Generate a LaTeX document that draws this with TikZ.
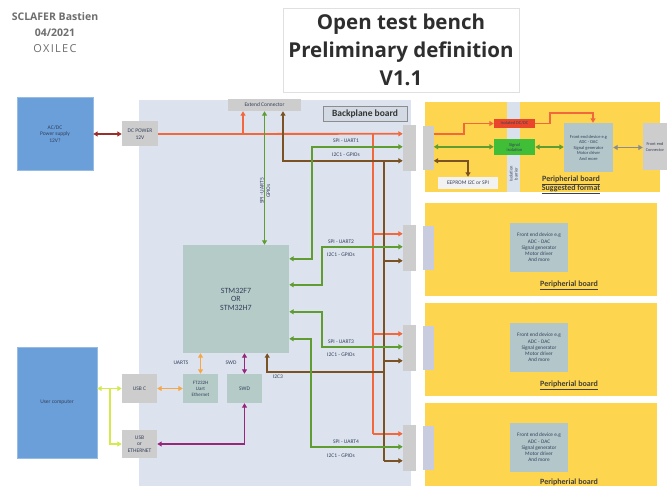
\documentclass[tikz,border=0pt]{standalone}
\usepackage{fontspec}
\setmainfont{Carlito}
\newfontfamily\titlefont{Open Sans}
\newfontfamily\spacedfont[LetterSpace=12]{Open Sans}
\usepackage{tikz}
\usetikzlibrary{arrows.meta,calc,positioning}

\definecolor{bpblue}{HTML}{DCE3EE}
\definecolor{pyellow}{HTML}{FED54E}
\definecolor{psblue}{HTML}{6B9FD9}
\definecolor{chipteal}{HTML}{B5CBC8}
\definecolor{fegray}{HTML}{B3C7CB}
\definecolor{conngray}{HTML}{CDCDCD}
\definecolor{pconnlav}{HTML}{C9CCDF}
\definecolor{barblue}{HTML}{D9E1EC}
\definecolor{pwrred}{HTML}{F2683C}
\definecolor{siggreen}{HTML}{5F9D31}
\definecolor{busbrown}{HTML}{7A5224}
\definecolor{usbyellow}{HTML}{D3E94C}
\definecolor{uartorange}{HTML}{F6A847}
\definecolor{swdpurple}{HTML}{97277B}
\definecolor{acred}{HTML}{9C2D2D}
\definecolor{isored}{HTML}{E9462B}
\definecolor{isogreen}{HTML}{41BE38}
\definecolor{boxtext}{HTML}{34405A}
\definecolor{hdrgray}{HTML}{6E6E6E}

\begin{document}
\begin{tikzpicture}[x=1pt,y=-1pt,>={Triangle[length=4.5pt,width=5pt]},
        blk/.style={inner sep=1pt,align=center,text=boxtext,font=\fontsize{5.5}{6.5}\selectfont},
        graybox/.style={blk,fill=conngray},
        chipbox/.style={blk,fill=chipteal},
        psbox/.style={blk,fill=psblue,draw=psblue!70!white},
        febox/.style={blk,fill=fegray,minimum width=58,minimum height=49,font=\fontsize{5.3}{6.3}\selectfont},
        board/.style={fill=pyellow,anchor=north west,inner sep=0},
        bconn/.style={fill=conngray,minimum width=13,minimum height=46,inner sep=0},
        pconn/.style={minimum width=11,minimum height=44,inner sep=0},
        wire/.style={line width=1.8pt},
        pwr/.style={wire,draw=pwrred},
        sig/.style={wire,draw=siggreen},
        bus/.style={wire,draw=busbrown},
        lbl/.style={inner sep=0,text=boxtext,font=\fontsize{5.5}{6.5}\selectfont},
        plbl/.style={align=center,text=black!85!yellow,font=\bfseries\fontsize{8}{9}\selectfont}]
        \useasboundingbox (0,0) rectangle (667,486);
        \fill[white] (0,0) rectangle (667,486);

        \node[text=hdrgray,font=\titlefont\bfseries\fontsize{10.5}{12}\selectfont] (author) at (55,17) {SCLAFER Bastien};
        \node[text=hdrgray,font=\titlefont\bfseries\fontsize{10.5}{12}\selectfont] (date) at (55,33) {04/2021};
        \node[text=hdrgray,font=\spacedfont\fontsize{11}{12}\selectfont] (company) at (55,49) {OXILEC};
        \node[draw=black!12,fill=white,minimum width=236,minimum height=84,align=center,text=black!82,
            font=\titlefont\bfseries\fontsize{20.5}{28}\selectfont] (title) at (401,50) {Open test bench\\Preliminary definition\\V1.1};

        \node[board,minimum width=272,minimum height=386,fill=bpblue] (backplane) at (139,100) {};
        \node[draw=black!45,fill=black!4!bpblue,minimum width=84,minimum height=15,inner sep=0,
            font=\bfseries\fontsize{9.5}{10}\selectfont,text=black!80] (bplbl) at (365,113.5) {Backplane board};

        \node[psbox,minimum width=76,minimum height=73] (acdc) at (55,134) {AC/DC\\Power supply\\12V?};
        \node[graybox,minimum width=36,minimum height=25] (dcpower) at (140,134) {DC POWER\\12V};
        \draw[wire,draw=acred,<->] (acdc) -- (dcpower);
        \node[graybox,minimum width=73,minimum height=12] (ext) at (264.5,105) {Extend Connector};
        \node[chipbox,minimum width=106,minimum height=108,font=\fontsize{8}{8.5}\selectfont] (stm) at (236,299) {STM32F7\\OR\\STM32H7};

        \node[board,minimum width=235,minimum height=90] (pb1) at (425,102) {};
        \node[board,minimum width=232,minimum height=93] (pb2) at (425,203) {};
        \node[board,minimum width=232,minimum height=93] (pb3) at (425,303) {};
        \node[board,minimum width=232,minimum height=90] (pb4) at (425,403) {};

        \foreach \i/\y/\c in {1/148/conngray,2/248/pconnlav,3/348/pconnlav,4/448/pconnlav}{
            \node[bconn] (bcon\i) at (409.5,\y) {};
            \node[pconn,fill=\c] (pcon\i) at (428,\y) {};
            \coordinate (bcon\i-r) at ($(bcon\i.north west)+(0,9)$);
            \coordinate (bcon\i-g) at ($(bcon\i.north west)+(0,22)$);
            \coordinate (bcon\i-b) at ($(bcon\i.north west)+(0,36)$);
            \coordinate (pcon\i-r) at ($(pcon\i.north east)+(0,8)$);
            \coordinate (pcon\i-g) at ($(pcon\i.north east)+(0,21)$);
            \coordinate (pcon\i-b) at ($(pcon\i.north east)+(0,35)$);
        }

        \coordinate (extpwr) at (243,134);
        \coordinate (rtop) at (373,134);
        \draw[pwr,->] (dcpower.east) -- (bcon1-r);
        \draw[pwr,->] (extpwr) -- (extpwr |- ext.south);
        \draw[pwr] (rtop) -- (rtop |- bcon4-r);
        \foreach \i in {2,3,4}
            \draw[pwr,->] (rtop |- bcon\i-r) -- (bcon\i-r);

        \coordinate (btop) at (384,161);
        \coordinate (i2cjoin) at (384,372);
        \draw[bus,<->] ($(ext.south)+(18.5,0)$) |- (bcon1-b);
        \draw[bus] (btop) -- (btop |- bcon4-b);
        \foreach \i in {2,3,4}
            \draw[bus,->] (btop |- bcon\i-b) -- (bcon\i-b);
        \draw[bus,->] (i2cjoin) -| ($(stm.south east)+(-22,0)$);

        \draw[sig,<->] (ext.south) -- (ext.south |- stm.north);
        \draw[sig,<->] (bcon1-g) -| ($(stm.north east)+(23,14)$) -- ($(stm.north east)+(0,14)$);
        \draw[sig,<->] (bcon2-g) -| ($(stm.north east)+(33,40)$) -- ($(stm.north east)+(0,40)$);
        \draw[sig,<->] (bcon3-g) -| ($(stm.north east)+(33,67)$) -- ($(stm.north east)+(0,67)$);
        \draw[sig,<->] (bcon4-g) -| ($(stm.north east)+(22,94)$) -- ($(stm.north east)+(0,94)$);

        \node[lbl] (spi1) at (346,141) {SPI - UART1};
        \node[lbl] (i2c1) at (346,155) {I2C1 - GPIOs};
        \node[lbl] (spi2) at (341,242) {SPI - UART2};
        \node[lbl] (i2c2) at (341,255) {I2C1 - GPIOs};
        \node[lbl] (spi3) at (341,342) {SPI - UART3};
        \node[lbl] (i2c3) at (341,355) {I2C1 - GPIOs};
        \node[lbl] (spi4) at (346,442) {SPI - UART4};
        \node[lbl] (i2c4) at (341,456) {I2C1 - GPIOs};
        \node[lbl,rotate=90,align=center] (spi5) at (265,191) {SPI - UART5\\GPIOs};

        \node[psbox,minimum width=80,minimum height=111] (usercomp) at (57,402.5) {User computer};
        \node[graybox,minimum width=35,minimum height=29] (usbc) at (139.5,388.5) {USB C};
        \node[chipbox,minimum width=35,minimum height=29,font=\fontsize{5}{6}\selectfont] (ftdi) at (200.5,388.5) {FT232H\\Uart\\Ethernet};
        \node[chipbox,minimum width=35,minimum height=29] (swd) at (244.5,388.5) {SWD};
        \node[graybox,minimum width=35,minimum height=28] (usbeth) at (139.5,444) {USB\\or\\ETHERNET};

        \coordinate (usbsplit) at (110,388.5);
        \draw[wire,draw=usbyellow,<->] (usercomp.east |- usbc) -- (usbc.west);
        \draw[wire,draw=usbyellow,->] (usbsplit) |- (usbeth.west);
        \draw[wire,draw=uartorange,<->] (usbc) -- (ftdi);
        \draw[wire,draw=uartorange,<->] (ftdi.north) -- (ftdi.north |- stm.south);
        \draw[wire,draw=swdpurple,<->] (swd.north) -- (swd.north |- stm.south);
        \draw[wire,draw=swdpurple,<->] (swd.south) |- (usbeth.east);
        \node[lbl] (uart5) at (181,363) {UART5};
        \node[lbl] (swdlbl) at (231,363) {SWD};
        \node[lbl] (i2c3lbl) at (278,377) {I2C3};

        \node[board,minimum width=13,minimum height=90,fill=barblue] (barrier) at (507,102) {};
        \node[lbl,rotate=90,align=center,font=\fontsize{4.5}{5}\selectfont] (barlbl) at (513.5,174) {Isolation\\barrier};
        \node[blk,fill=isored,minimum width=41,minimum height=9,inner sep=0,font=\fontsize{4.5}{5}\selectfont] (isodc) at (514.5,123.5) {Isolated DC/DC};
        \node[blk,fill=isogreen,minimum width=41,minimum height=16,inner sep=0,font=\fontsize{4.5}{5}\selectfont] (sigiso) at (514.5,147) {Signal\\isolation};
        \node[febox,minimum width=49,font=\fontsize{4.5}{5.5}\selectfont] (fe1) at (588.5,147.5) {Front end device e.g\\ADC - DAC\\Signal generator\\Motor driver\\And more};
        \node[graybox,minimum width=24,minimum height=47,inner sep=0,font=\fontsize{4.3}{5.2}\selectfont] (fcon) at (655,147) {Front end\\Connector};
        \node[blk,fill=black!5,minimum width=60,minimum height=12,inner sep=0] (eeprom) at (468,183) {EEPROM I2C or SPI};

        \draw[pwr,->] (pcon1-r) -- ++(30,0) |- (isodc.west);
        \draw[pwr,->] (isodc.east) -- ++(15,0) |- ($(fe1.north)+(4.5,-10)$) -- ($(fe1.north)+(4.5,0)$);
        \draw[sig,<->] (pcon1-g) -- (pcon1-g -| sigiso.west);
        \draw[sig,<->] (sigiso.east) -- (sigiso.east -| fe1.west);
        \draw[wire,draw=black!45,<->] (fe1.east) -- (fe1.east -| fcon.west);
        \draw[bus,<->] (pcon1-b) -| (eeprom.north);

        \foreach \i/\y in {2/247.5,3/347.5,4/447.5}
            \node[febox] (fe\i) at (539,\y) {Front end device e.g\\ADC - DAC\\Signal generator\\Motor driver\\And more};

        \node[plbl] (pb1lbl) at (571,184.5) {\underline{Peripherial board}\\\underline{Suggested format}};
        \node[plbl] (pb2lbl) at (569,285) {\underline{Peripherial board}};
        \node[plbl] (pb3lbl) at (569,385) {\underline{Peripherial board}};
        \node[plbl] (pb4lbl) at (569,483) {\underline{Peripherial board}};
    \end{tikzpicture}
\end{document}
